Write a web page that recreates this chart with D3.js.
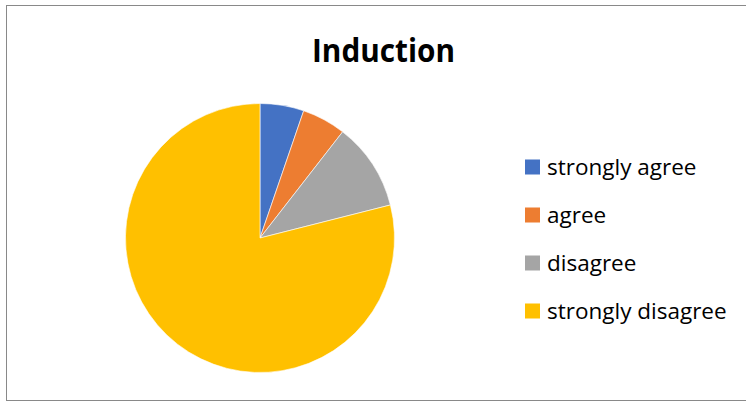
<!DOCTYPE html>
<html>
<head>
<meta charset="utf-8">
<script src="https://cdn.jsdelivr.net/npm/d3@7"></script>
<style>
  body { margin: 0; background: #fff; }
  svg { display: block; }
</style>
</head>
<body>
<script>
'use strict'
const categories = ["strongly agree", "agree", "disagree", "strongly disagree"];
const values = [1, 1, 2, 15];
const colors = ["#4472C4", "#ED7D31", "#A5A5A5", "#FFC000"];
const chartTitle = "Induction";

const width = 746, height = 403;
const svg = d3.select("body").append("svg")
    .attr("width", width)
    .attr("height", height);

// chart frame
svg.append("rect")
    .attr("x", 6.5).attr("y", 5.5)
    .attr("width", 760).attr("height", 395)
    .attr("fill", "#fff")
    .attr("stroke", "#898989")
    .attr("stroke-width", 1);

svg.append("text")
    .attr("x", 383.5).attr("y", 62)
    .attr("text-anchor", "middle")
    .attr("font-family", "Open Sans, sans-serif")
    .attr("font-weight", "bold")
    .attr("font-size", "32px")
    .attr("textLength", 143)
    .attr("lengthAdjust", "spacingAndGlyphs")
    .attr("fill", "#000")
    .text(chartTitle);

const color = d3.scaleOrdinal().domain(categories).range(colors);
const pie = d3.pie().sort(null).value(d => d.v);
const arc = d3.arc().innerRadius(0).outerRadius(134.5);
const data = categories.map((c, i) => ({ c: c, v: values[i] }));

svg.append("g")
    .attr("transform", "translate(260,238)")
    .selectAll("path")
    .data(pie(data))
    .enter()
    .append("path")
    .attr("d", arc)
    .attr("fill", d => color(d.data.c))
    .attr("stroke", "#fff")
    .attr("stroke-width", 0.6);

const legendY = d3.scalePoint().domain(categories).range([167, 311]);
const legend = svg.append("g").selectAll("g")
    .data(categories)
    .enter()
    .append("g")
    .attr("transform", d => "translate(525," + legendY(d) + ")");

legend.append("rect")
    .attr("x", 0).attr("y", -7.5)
    .attr("width", 15).attr("height", 15)
    .attr("fill", d => color(d));

legend.append("text")
    .attr("x", 22).attr("y", 8)
    .attr("font-family", "Open Sans, sans-serif")
    .attr("font-size", "22.5px")
    .attr("fill", "#000")
    .text(d => d);
</script>
</body>
</html>
